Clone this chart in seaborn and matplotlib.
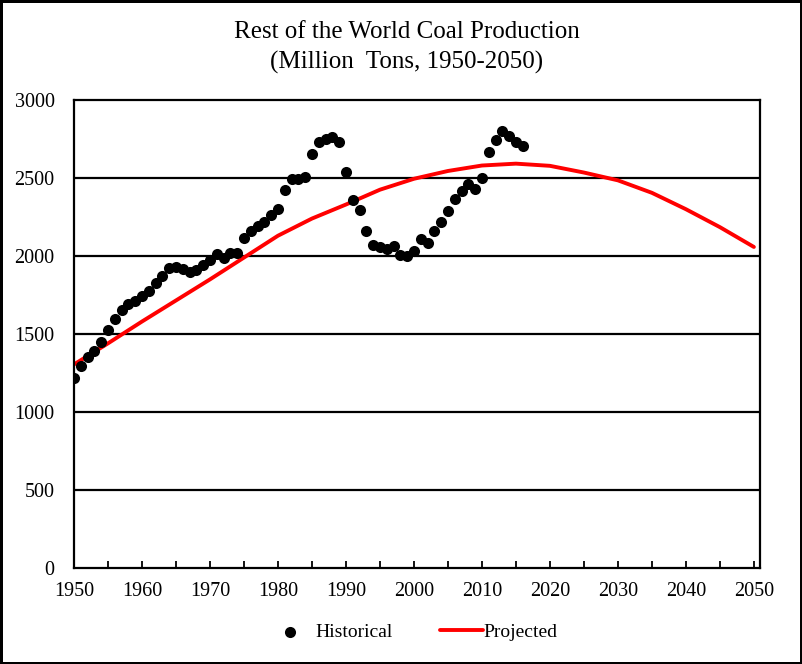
import numpy as np
import pandas as pd
import matplotlib.pyplot as plt
import seaborn as sns
from matplotlib.ticker import MultipleLocator

# Historical production (million tons), 1950-2016
hist_years = list(range(1950, 2017))
hist_values = [
    1218, 1295, 1353, 1391, 1449, 1526, 1596, 1654, 1692, 1712,
    1744, 1776, 1827, 1872, 1923, 1929, 1917, 1897, 1910, 1942,
    1974, 2013, 1987, 2019, 2019, 2115, 2160, 2192, 2218, 2263,
    2301, 2423, 2494, 2494, 2506, 2654, 2731, 2750, 2763, 2731,
    2538, 2359, 2295, 2160, 2071, 2058, 2045, 2064, 2006, 2000,
    2032, 2109, 2083, 2160, 2218, 2288, 2365, 2417, 2462, 2429,
    2500, 2667, 2744, 2801, 2769, 2731, 2705,
]

# Projected curve, read every 5 years
proj_years = list(range(1950, 2051, 5))
proj_values = [
    1305, 1440, 1580, 1715, 1850, 1990, 2130, 2240, 2330, 2425,
    2495, 2545, 2580, 2592, 2578, 2535, 2485, 2405, 2300, 2185, 2058,
]

hist = pd.DataFrame({'year': hist_years, 'value': hist_values})
proj = pd.DataFrame({'year': proj_years, 'value': proj_values})

sns.set_style('white')
plt.rcParams['font.family'] = ['Liberation Serif', 'DejaVu Serif']
plt.rcParams['text.color'] = 'black'

fig = plt.figure(figsize=(8.02, 6.64), dpi=100)
fig.patch.set_edgecolor('black')
fig.patch.set_linewidth(2.5)
ax = fig.add_axes([74 / 802, 96 / 664, 686 / 802, 468 / 664])

# gridlines behind the data
for v in range(500, 3000, 500):
    ax.axhline(v, color='black', linewidth=1.6, zorder=0)

sns.lineplot(data=proj, x='year', y='value', ax=ax, color='#ff0000',
             linewidth=2.8, label='Projected', zorder=2)
sns.scatterplot(data=hist, x='year', y='value', ax=ax, color='black',
                s=64, edgecolor='black', linewidth=0, label='Historical', zorder=3)

ax.set_xlim(1950, 2050.9)
ax.set_ylim(0, 3000)
ax.xaxis.set_major_locator(MultipleLocator(10))
ax.xaxis.set_minor_locator(MultipleLocator(5))
ax.yaxis.set_major_locator(MultipleLocator(500))
ax.tick_params(axis='x', which='both', direction='in', length=5, width=1.3,
               bottom=True, labelsize=14.5, pad=10, colors='black')
ax.tick_params(axis='y', length=0, labelsize=14.5, pad=14, colors='black')
ax.set_xlabel('')
ax.set_ylabel('')
for side in ['left', 'bottom', 'top', 'right']:
    ax.spines[side].set_visible(True)
    ax.spines[side].set_color('black')
    ax.spines[side].set_linewidth(1.6)

fig.text(407 / 802, 1 - 32 / 664, 'Rest of the World Coal Production',
         ha='center', va='center', fontsize=18)
fig.text(407 / 802, 1 - 62 / 664, '(Million  Tons, 1950-2050)',
         ha='center', va='center', fontsize=18)

handles, labels = ax.get_legend_handles_labels()
ax.get_legend().remove()
h_hist = handles[labels.index('Historical')]
h_proj = handles[labels.index('Projected')]

leg1 = fig.legend([h_hist], ['Historical'], loc='center left',
                  bbox_to_anchor=(280 / 802, 1 - 632 / 664), frameon=False,
                  fontsize=14, handlelength=1.0, handletextpad=0.8,
                  borderpad=0, borderaxespad=0)
leg2 = fig.legend([h_proj], ['Projected'], loc='center left',
                  bbox_to_anchor=(440 / 802, 1 - 632 / 664), frameon=False,
                  fontsize=14, handlelength=2.2, handletextpad=0.05,
                  borderpad=0, borderaxespad=0)

fig.savefig('out.png', dpi=100, edgecolor=fig.get_edgecolor())
